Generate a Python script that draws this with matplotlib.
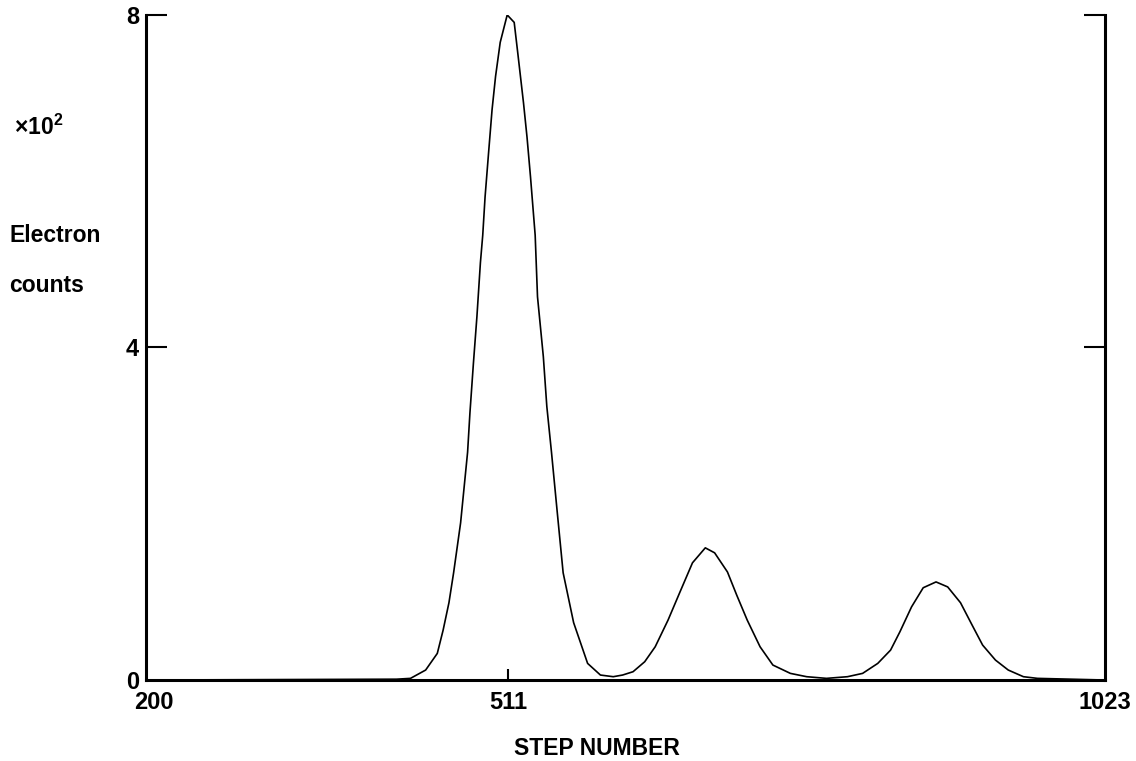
"""Electron counts vs step number: three peaks, main one at step 511."""
import matplotlib
matplotlib.use("Agg")
import matplotlib.pyplot as plt
from matplotlib.transforms import ScaledTranslation

plt.rcParams["font.family"] = ["Liberation Sans", "DejaVu Sans"]
plt.rcParams["mathtext.fontset"] = "custom"
plt.rcParams["mathtext.rm"] = "Liberation Sans"
plt.rcParams["mathtext.bf"] = "Liberation Sans:bold"

# values (counts in units of 10^2)
step = [200, 415, 427, 440, 450, 455, 460, 464, 470, 476, 478, 481, 484,
        487, 489, 491, 494, 497, 500, 504, 510, 516, 519, 524, 527, 530,
        534, 536, 541, 544, 548, 553, 558, 567, 579, 590, 601, 609, 618,
        628, 637, 648, 658, 669, 680, 688, 699, 707, 716, 727, 738, 753,
        767, 784, 802, 815, 828, 839, 847, 857, 867, 878, 888, 899, 909,
        918, 929, 940, 953, 965, 1023]
counts = [0.0, 0.01, 0.02, 0.12, 0.32, 0.60, 0.93, 1.29, 1.89, 2.74, 3.21,
          3.81, 4.37, 5.02, 5.35, 5.81, 6.34, 6.86, 7.26, 7.67, 8.0, 7.91,
          7.55, 6.94, 6.53, 6.05, 5.35, 4.61, 3.89, 3.29, 2.74, 2.01, 1.29,
          0.69, 0.20, 0.06, 0.04, 0.06, 0.10, 0.22, 0.40, 0.72, 1.05, 1.41,
          1.59, 1.53, 1.30, 1.02, 0.72, 0.40, 0.18, 0.08, 0.04, 0.02, 0.04,
          0.08, 0.20, 0.36, 0.58, 0.88, 1.11, 1.18, 1.12, 0.93, 0.66, 0.42,
          0.24, 0.12, 0.04, 0.02, 0.0]

x_ticks = [200, 511, 1023]
y_ticks = [0, 4, 8]

fig = plt.figure(figsize=(11.36, 7.61), dpi=100)
ax = fig.add_axes([0.1285, 0.1064, 0.8442, 0.874])

ax.plot(step, counts, color="black", lw=1.2)

ax.set_xlim(200, 1023)
ax.set_ylim(0, 8)

ax.spines["top"].set_visible(False)
for s in ("left", "right", "bottom"):
    ax.spines[s].set_linewidth(2.2)

ax.set_xticks(x_ticks)
ax.set_xticklabels([str(t) for t in x_ticks], fontsize=17, fontweight="bold")
ax.set_yticks(y_ticks)
ax.set_yticklabels([str(t) for t in y_ticks], fontsize=17, fontweight="bold")
ax.tick_params(axis="x", direction="in", length=8, width=1.5, pad=8)
ax.tick_params(axis="y", direction="in", length=15, width=1.5, pad=5,
               right=True)
# no visible marks at the axis ends
xt = ax.xaxis.get_major_ticks()
xt[0].tick1line.set_visible(False)
xt[-1].tick1line.set_visible(False)
yt = ax.yaxis.get_major_ticks()
yt[0].tick1line.set_visible(False)
yt[0].tick2line.set_visible(False)

# 200 sits a little right of the spine
lbl = ax.get_xticklabels()[0]
lbl.set_transform(lbl.get_transform() + ScaledTranslation(0.08, 0, fig.dpi_scale_trans))

ax.set_xlabel("STEP NUMBER", fontsize=16.5, fontweight="bold")
ax.xaxis.set_label_coords(0.47, -0.086)

fig.text(0.012, 0.833, r"$\mathbf{\times 10^{2}}$", fontsize=16.5,
         ha="left", va="center")
fig.text(0.008, 0.69, "Electron", fontsize=16.5, fontweight="bold",
         ha="left", va="center")
fig.text(0.008, 0.625, "counts", fontsize=16.5, fontweight="bold",
         ha="left", va="center")

fig.savefig("out.png", dpi=100)
